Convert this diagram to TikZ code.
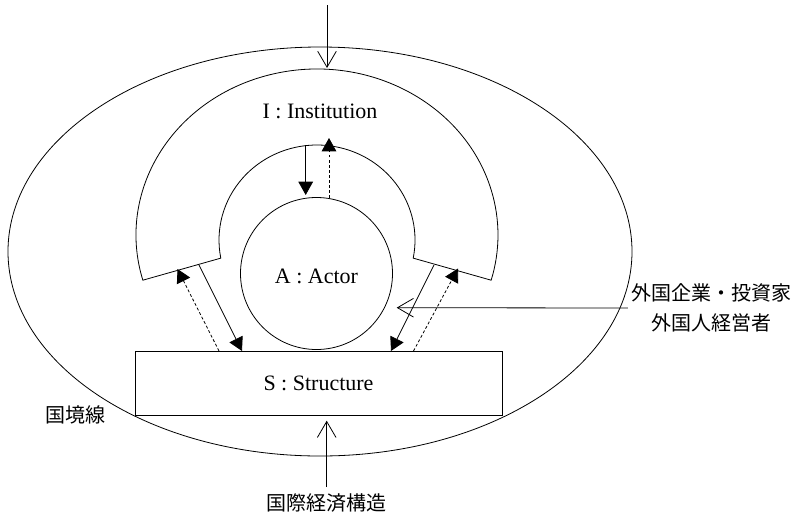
\documentclass[tikz,border=0pt]{standalone}
\usepackage{fontspec}
\setmainfont{Liberation Serif}
\newfontfamily\cjk{Noto Sans CJK JP}
\usetikzlibrary{arrows.meta,calc}
\begin{document}
\begin{tikzpicture}[x=0.75pt,y=0.75pt,
  line width=0.6pt,
  lbl/.style={font=\fontsize{16.5}{19}\selectfont, inner sep=0pt},
  jlbl/.style={font=\cjk\fontsize{15}{22.5}\selectfont, inner sep=2pt, align=center},
  solidarr/.style={-{Triangle[length=10pt,width=11pt]}},
  dasharr/.style={-{Triangle[length=10pt,width=11pt]}, dash pattern=on 2.2pt off 1.6pt},
  openarr/.style={-{Straight Barb[length=12pt,width=14pt]}}
]
\useasboundingbox (0,0) rectangle (800,-515);

% outer border ellipse
\draw (320,-251.5) ellipse [x radius=312, y radius=204.5];

% Institution horseshoe
\coordinate (oc) at (317,-235);
\coordinate (ic) at (317,-240);
\coordinate (ol) at ($(oc)+(195.8:181 and 166)$);
\coordinate (ir) at ($(ic)+(-11:98 and 95)$);
\draw (ol) arc[start angle=195.8, end angle=-15.8, x radius=181, y radius=166]
  -- (ir) arc[start angle=-11, end angle=191, x radius=98, y radius=95] -- cycle;
\node[lbl] (I) at (320,-111.7) {I : Institution};

% Actor
\node[draw, circle, minimum size=114pt, inner sep=0pt] (A) at (316.5,-273.5) {};
\node[lbl] (At) at (316.5,-276.7) {A : Actor};

% Structure
\node[draw, minimum width=275.25pt, minimum height=48pt, inner sep=0pt,
  font=\fontsize{16.5}{19}\selectfont] (S) at (318.5,-383) {S : Structure};

% arrows between I and A
\coordinate (ia1) at (305.7,-145);
\coordinate (ia2) at (305.7,-195);
\coordinate (ai1) at (329,-198);
\coordinate (ai2) at (329,-138);
\draw[solidarr] (ia1) -- (ia2);
\draw[dasharr] (ai1) -- (ai2);

% left pair
\coordinate (ls1) at (219,-351);
\coordinate (ls2) at (177.5,-269);
\coordinate (li1) at (199,-265);
\coordinate (li2) at (242,-351);
\draw[dasharr] (ls1) -- (ls2);
\draw[solidarr] (li1) -- (li2);

% right pair
\coordinate (ri1) at (434,-265);
\coordinate (ri2) at (391,-351);
\coordinate (rs1) at (413.5,-351);
\coordinate (rs2) at (458,-268.5);
\draw[solidarr] (ri1) -- (ri2);
\draw[dasharr] (rs1) -- (rs2);

% top arrow
\coordinate (tt) at (327,-5);
\coordinate (tb) at (327,-68);
\draw[openarr] (tt) -- (tb);

% right labels
\node[jlbl] (F) at (711,-308) {外国企業・投資家\\外国人経営者};
\coordinate (fa) at (396.7,-307.7);
\draw[openarr] (F.west) -- (fa);

% bottom label
\node[jlbl] (B) at (326.5,-502.7) {国際経済構造};
\coordinate (bs) at (326.7,-487);
\coordinate (be) at (326.7,-420.7);
\draw[openarr] (bs) -- (be);

% border label
\node[jlbl] (K) at (75,-415) {国境線};
\end{tikzpicture}
\end{document}
